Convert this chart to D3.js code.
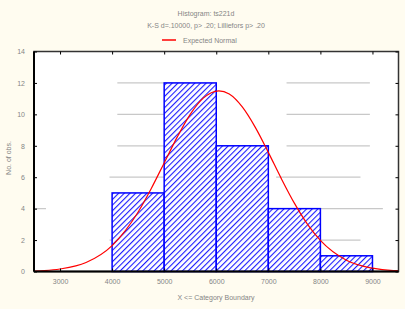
<!DOCTYPE html>
<html>
<head>
<meta charset="utf-8">
<script src="https://cdn.jsdelivr.net/npm/d3@7"></script>
<style>
  html, body { margin: 0; padding: 0; background: #ffffff; }
  text { font-family: "Liberation Sans", Arial, sans-serif; }
</style>
</head>
<body>
<svg id="chart" width="412" height="309"></svg>
<script>
// histogram bins (lower bound, upper bound, count)
const binLower = [4000, 5000, 6000, 7000, 8000];
const binUpper = [5000, 6000, 7000, 8000, 9000];
const binCount = [5, 12, 8, 4, 1];

// expected normal curve
const curveX = [2500, 2700, 3000, 3500, 4000, 4500, 4750, 5000, 5250, 5500, 5750, 6050, 6250, 6500, 6750, 7000, 7250, 7500, 7750, 8000, 8500, 9000, 9400, 9500];
const curveY = [0.03, 0.06, 0.16, 0.57, 1.65, 3.79, 5.27, 6.91, 8.55, 10.0, 11.03, 11.5, 11.29, 10.47, 9.17, 7.58, 5.91, 4.35, 3.02, 1.98, 0.72, 0.21, 0.06, 0.05];

const xTicks = [3000, 4000, 5000, 6000, 7000, 8000, 9000];
const yTicks = [0, 2, 4, 6, 8, 10, 12, 14];

// grid line pieces that show in the picture: [value, from, to]
const gridPieces = [
  [12, 4100, 5500], [12, 7350, 8950],
  [10, 4100, 5500], [10, 7350, 8950],
  [8, 4100, 5500], [8, 7350, 8950],
  [6, 3950, 5500], [6, 7150, 8770],
  [4, 2500, 2730], [4, 4500, 9200],
  [2, 3950, 4050], [2, 7500, 8770]
];

const titleLines = ["Histogram: ts221d", "K-S d=.10000, p> .20; Lilliefors p> .20"];
const legendLabel = "Expected Normal";
const xTitle = "X <= Category Boundary";
const yTitle = "No. of obs.";

const svg = d3.select("#chart");
const TEXT_COLOR = "#858585";
const FONT = 7;

svg.append("rect")
  .attr("x", 0).attr("y", 0)
  .attr("width", 405).attr("height", 309)
  .attr("fill", "#fffcf0");

const box = { left: 34, right: 398.5, top: 51.5, bottom: 271.5 };

const x = d3.scaleLinear().domain([2500, 9500]).range([box.left, box.right]);
const y = d3.scaleLinear().domain([0, 14]).range([box.bottom, box.top]);

// hatch pattern
const defs = svg.append("defs");
const pat = defs.append("pattern")
  .attr("id", "hatch")
  .attr("patternUnits", "userSpaceOnUse")
  .attr("width", 4).attr("height", 4)
  .attr("patternTransform", "rotate(45)");
pat.append("rect").attr("width", 4).attr("height", 4).attr("fill", "#ffffff");
pat.append("line")
  .attr("x1", 0).attr("y1", 0).attr("x2", 0).attr("y2", 4)
  .attr("stroke", "#1a1aff").attr("stroke-width", 2.2);

// plot area
svg.append("rect")
  .attr("x", box.left).attr("y", box.top)
  .attr("width", box.right - box.left).attr("height", box.bottom - box.top)
  .attr("fill", "#ffffff");

// grid pieces
svg.append("g").selectAll("line")
  .data(gridPieces)
  .enter()
  .append("line")
  .attr("x1", function(d) { return x(d[1]); })
  .attr("x2", function(d) { return x(d[2]); })
  .attr("y1", function(d) { return y(d[0]); })
  .attr("y2", function(d) { return y(d[0]); })
  .attr("stroke", "#c8c8c8")
  .attr("stroke-width", 1.2);

// bars
const bins = binCount.map(function(c, i) {
  return { lo: binLower[i], hi: binUpper[i], n: c };
});

svg.append("g").selectAll("rect")
  .data(bins)
  .enter()
  .append("rect")
  .attr("x", function(d) { return x(d.lo); })
  .attr("y", function(d) { return y(d.n); })
  .attr("width", function(d) { return x(d.hi) - x(d.lo); })
  .attr("height", function(d) { return y(0) - y(d.n); })
  .attr("fill", "url(#hatch)")
  .attr("stroke", "#0000ff")
  .attr("stroke-width", 1.5);

// expected normal curve
const curvePts = curveX.map(function(v, i) { return [v, curveY[i]]; });
svg.append("path")
  .datum(curvePts)
  .attr("fill", "none")
  .attr("stroke", "#ff0000")
  .attr("stroke-width", 1.2)
  .attr("d", d3.line()
    .x(function(d) { return x(d[0]); })
    .y(function(d) { return y(d[1]); })
    .curve(d3.curveMonotoneX));

// frame
svg.append("rect")
  .attr("x", box.left).attr("y", box.top)
  .attr("width", box.right - box.left).attr("height", box.bottom - box.top)
  .attr("fill", "none")
  .attr("stroke", "#333333")
  .attr("stroke-width", 1.5);
svg.append("line")
  .attr("x1", box.left).attr("x2", box.left)
  .attr("y1", box.top).attr("y2", box.bottom)
  .attr("stroke", "#000000").attr("stroke-width", 2);
svg.append("line")
  .attr("x1", box.left).attr("x2", box.right)
  .attr("y1", box.bottom).attr("y2", box.bottom)
  .attr("stroke", "#000000").attr("stroke-width", 2);

// axes
const yAxis = svg.append("g")
  .attr("transform", "translate(" + box.left + ",0)")
  .call(d3.axisLeft(y).tickValues(yTicks).tickSize(-3).tickPadding(9));
const yAxisR = svg.append("g")
  .attr("transform", "translate(" + box.right + ",0)")
  .call(d3.axisRight(y).tickValues(yTicks).tickSize(-3).tickFormat(""));
const xAxis = svg.append("g")
  .attr("transform", "translate(0," + box.bottom + ")")
  .call(d3.axisBottom(x).tickValues(xTicks).tickSize(-3).tickPadding(8).tickFormat(d3.format("d")));
const xAxisT = svg.append("g")
  .attr("transform", "translate(0," + box.top + ")")
  .call(d3.axisTop(x).tickValues(xTicks).tickSize(-3).tickFormat(""));

[yAxis, yAxisR, xAxis, xAxisT].forEach(function(a) {
  a.select(".domain").remove();
  a.selectAll(".tick line").attr("stroke", "#000000").attr("stroke-width", 1);
  a.selectAll("text")
    .attr("fill", TEXT_COLOR)
    .style("font-size", FONT + "px");
});

// titles
svg.selectAll(".title")
  .data(titleLines)
  .enter()
  .append("text")
  .attr("class", "title")
  .attr("x", 206)
  .attr("y", function(d, i) { return 16 + i * 12; })
  .attr("text-anchor", "middle")
  .attr("fill", TEXT_COLOR)
  .style("font-size", FONT + "px")
  .text(function(d) { return d; });

// legend
svg.append("line")
  .attr("x1", 162).attr("x2", 176)
  .attr("y1", 40).attr("y2", 40)
  .attr("stroke", "#ff0000").attr("stroke-width", 1.5);
svg.append("text")
  .attr("x", 183).attr("y", 42.5)
  .attr("fill", TEXT_COLOR)
  .style("font-size", FONT + "px")
  .text(legendLabel);

// axis titles
svg.append("text")
  .attr("x", 216).attr("y", 300)
  .attr("text-anchor", "middle")
  .attr("fill", TEXT_COLOR)
  .style("font-size", FONT + "px")
  .text(xTitle);
svg.append("text")
  .attr("transform", "translate(11,158) rotate(-90)")
  .attr("text-anchor", "middle")
  .attr("fill", TEXT_COLOR)
  .style("font-size", FONT + "px")
  .text(yTitle);
</script>
</body>
</html>
